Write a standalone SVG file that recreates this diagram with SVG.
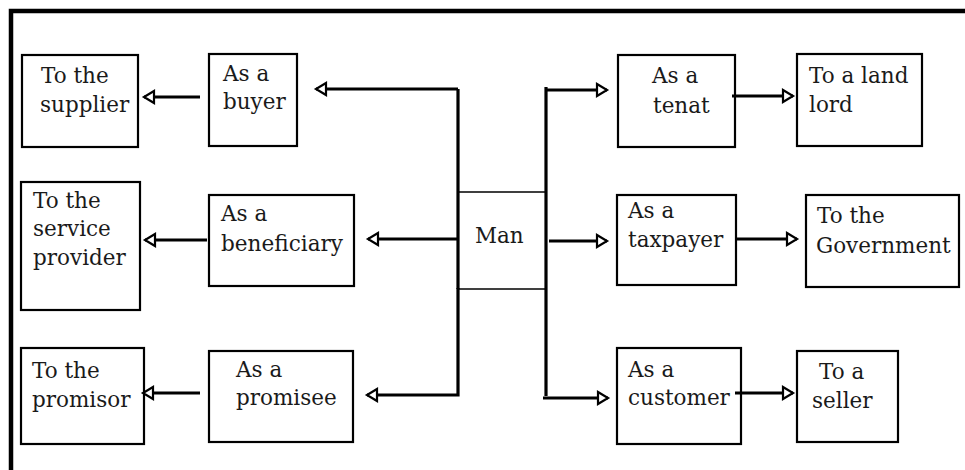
<svg xmlns="http://www.w3.org/2000/svg" width="965" height="470" viewBox="0 0 965 470">
<style>
.box{fill:#fff;stroke:#000;stroke-width:2.2}
.thin{fill:#fff;stroke:#000;stroke-width:1.5}
.t{font-family:'DejaVu Serif',serif;font-size:21.5px;fill:#1a1a1a}
.c{fill:none;stroke:#000;stroke-width:3.2}
</style>
<defs>
<marker id="ah" markerUnits="userSpaceOnUse" markerWidth="16" markerHeight="16" viewBox="-2 -2 16 16" refX="10" refY="6" orient="auto">
<path d="M0,0 L10,6 L0,12 Z" fill="#fff" stroke="#000" stroke-width="2.2"/>
</marker>
</defs>
<rect width="965" height="470" fill="#fff"/>
<g id="frame"><path d="M11,470 V11 H965" fill="none" stroke="#000" stroke-width="4.5"/></g>

<g id="man"><rect class="thin" x="458" y="192" width="88" height="97"/><text class="t" x="475" y="243">Man</text></g>

<g id="supplier"><rect class="box" x="22" y="55" width="116" height="92"/><text class="t" x="41" y="83">To the</text><text class="t" x="40" y="112">supplier</text></g>
<g id="buyer"><rect class="box" x="209" y="54" width="88" height="92"/><text class="t" x="223" y="81">As a</text><text class="t" x="223" y="109">buyer</text></g>
<g id="serviceprovider"><rect class="box" x="21" y="182" width="119" height="128"/><text class="t" x="33" y="208">To the</text><text class="t" x="33" y="236">service</text><text class="t" x="33" y="265">provider</text></g>
<g id="beneficiary"><rect class="box" x="209" y="195" width="145" height="91"/><text class="t" x="221" y="221">As a</text><text class="t" x="221" y="251" textLength="122" lengthAdjust="spacingAndGlyphs">beneficiary</text></g>
<g id="promisor"><rect class="box" x="21" y="348" width="123" height="96"/><text class="t" x="32" y="378">To the</text><text class="t" x="32" y="407">promisor</text></g>
<g id="promisee"><rect class="box" x="209" y="351" width="144" height="91"/><text class="t" x="236" y="377">As a</text><text class="t" x="236" y="405">promisee</text></g>

<g id="tenat"><rect class="box" x="618" y="55" width="117" height="92"/><text class="t" x="652" y="83">As a</text><text class="t" x="653" y="113">tenat</text></g>
<g id="landlord"><rect class="box" x="797" y="54" width="125" height="92"/><text class="t" x="809" y="83">To a land</text><text class="t" x="809" y="112">lord</text></g>
<g id="taxpayer"><rect class="box" x="617" y="195" width="119" height="90"/><text class="t" x="628" y="218">As a</text><text class="t" x="628" y="247">taxpayer</text></g>
<g id="government"><rect class="box" x="806" y="195" width="153" height="92"/><text class="t" x="817" y="223">To the</text><text class="t" x="816" y="253">Government</text></g>
<g id="customer"><rect class="box" x="617" y="348" width="124" height="96"/><text class="t" x="628" y="377">As a</text><text class="t" x="628" y="405">customer</text></g>
<g id="seller"><rect class="box" x="797" y="351" width="101" height="91"/><text class="t" x="819" y="379">To a</text><text class="t" x="812" y="408">seller</text></g>

<g id="connectors">
<path class="c" d="M458,289 V89"/>
<path class="c" d="M458,89 H316" marker-end="url(#ah)"/>
<path class="c" d="M458,239 H368" marker-end="url(#ah)"/>
<path class="c" d="M458,288 V395 H367" marker-end="url(#ah)"/>
<path class="c" d="M200,97 H144" marker-end="url(#ah)"/>
<path class="c" d="M207,240 H145" marker-end="url(#ah)"/>
<path class="c" d="M200,393 H143" marker-end="url(#ah)"/>
<path class="c" d="M546,87 V396"/>
<path class="c" d="M546,90 H607" marker-end="url(#ah)"/>
<path class="c" d="M549,241 H607" marker-end="url(#ah)"/>
<path class="c" d="M543,398 H608" marker-end="url(#ah)"/>
<path class="c" d="M732,96 H793" marker-end="url(#ah)"/>
<path class="c" d="M737,239 H797" marker-end="url(#ah)"/>
<path class="c" d="M735,393 H793" marker-end="url(#ah)"/>
</g>
</svg>
